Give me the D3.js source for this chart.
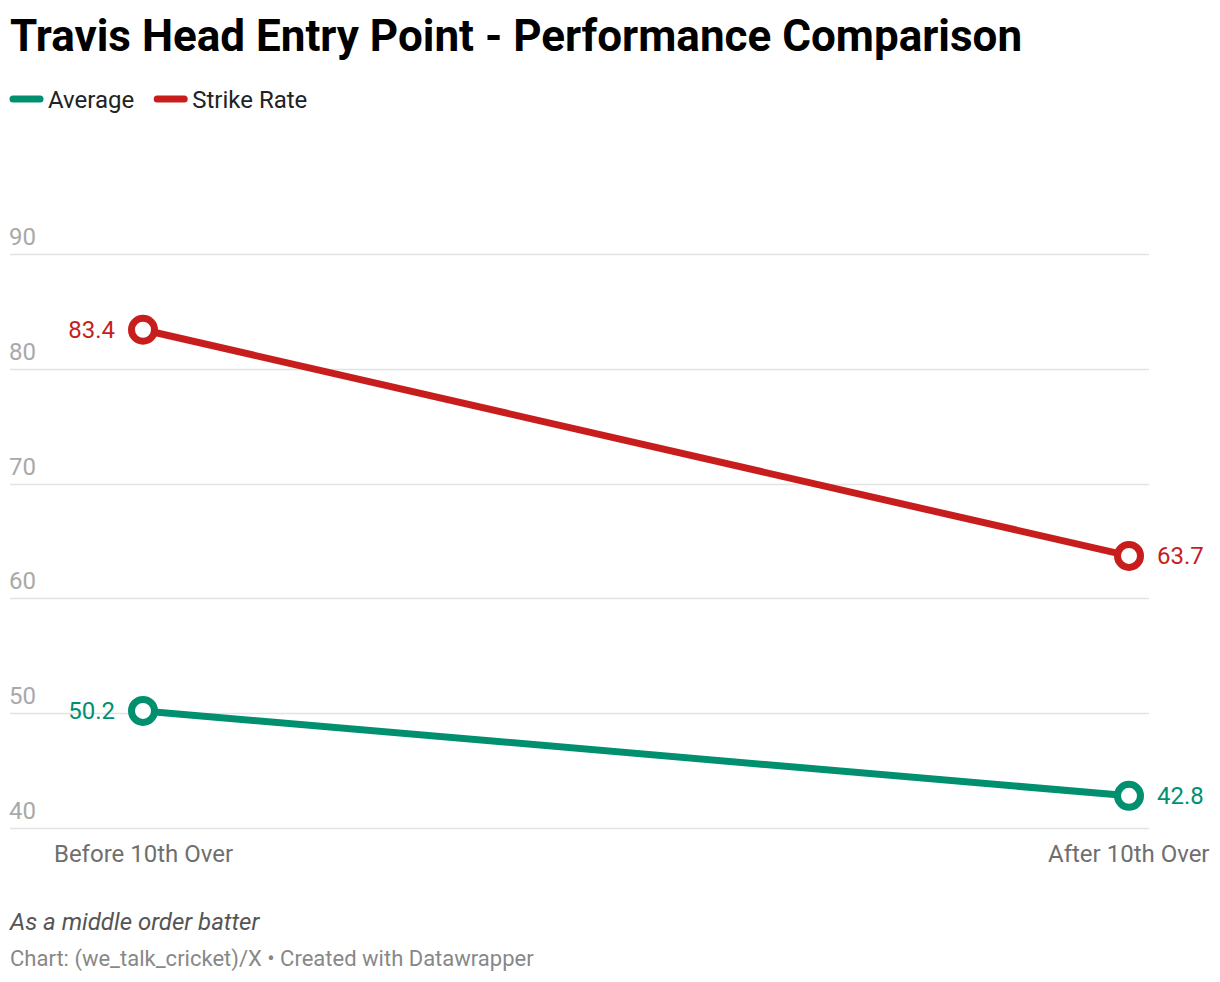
<!DOCTYPE html>
<html>
<head>
<meta charset="utf-8">
<script src="https://cdn.jsdelivr.net/npm/d3@7"></script>
<style>
  html, body { margin: 0; padding: 0; background: #fff; }
  body { width: 1220px; height: 982px; overflow: hidden; font-family: Roboto, "Noto Sans", sans-serif; }
</style>
</head>
<body>
<svg id="chart" width="1220" height="982"></svg>
<script>
const categories = ["Before 10th Over", "After 10th Over"];
const seriesNames = ["Average", "Strike Rate"];
const averageValues = [50.2, 42.8];
const strikeRateValues = [83.4, 63.7];
const yTicks = [40, 50, 60, 70, 80, 90];
const seriesColors = ["#009070", "#c71e1d"];

const svg = d3.select("#chart");

// Title
svg.append("text")
  .attr("x", 10).attr("y", 51)
  .attr("font-size", 44).attr("font-weight", 700).attr("fill", "#000")
  .text("Travis Head Entry Point - Performance Comparison");

// Legend
const legend = svg.append("g");
let lx = 10;
seriesNames.forEach((name, i) => {
  const g = legend.append("g");
  g.append("line").attr("x1", lx + 3).attr("x2", lx + 30).attr("y1", 99).attr("y2", 99)
    .attr("stroke", seriesColors[i]).attr("stroke-width", 7).attr("stroke-linecap", "round");
  const t = g.append("text").attr("x", lx + 38).attr("y", 108)
    .attr("font-size", 24).attr("fill", "#222").text(name);
  lx += 38 + t.node().getComputedTextLength() + 20;
});

// Scales
const y = d3.scaleLinear().domain([40, 90]).range([828, 254]);
const x = d3.scalePoint().domain(categories).range([143, 1129]);

// Grid
const grid = svg.append("g");
yTicks.forEach(t => {
  grid.append("line").attr("x1", 10).attr("x2", 1149)
    .attr("y1", Math.round(y(t)) + 0.5).attr("y2", Math.round(y(t)) + 0.5)
    .attr("stroke", "#e3e3e3").attr("stroke-width", 1.5);
  grid.append("text").attr("x", 9).attr("y", y(t) - 9)
    .attr("font-size", 24).attr("fill", "#a9a9a9").text(t);
});

// X-axis labels
const xAxis = d3.axisBottom(x).tickSize(0).tickPadding(0);
const xg = svg.append("g").attr("transform", "translate(0,862)").call(xAxis);
xg.select(".domain").remove();
xg.selectAll("text").attr("font-size", 24).attr("fill", "#6f6f6f")
  .attr("font-family", "Roboto, sans-serif").attr("dy", 0);
xg.selectAll(".tick").filter(d => d === categories[1]).select("text")
  .attr("text-anchor", "end").attr("x", 1209 - 1129);

// Lines
const data = [averageValues, strikeRateValues];
const line = d3.line().x((d, i) => x(categories[i])).y(d => y(d));
data.forEach((vals, si) => {
  svg.append("path").attr("d", line(vals)).attr("fill", "none")
    .attr("stroke", seriesColors[si]).attr("stroke-width", 7);
});
data.forEach((vals, si) => {
  vals.forEach((v, i) => {
    svg.append("circle").attr("cx", x(categories[i])).attr("cy", y(v)).attr("r", 11.5)
      .attr("fill", "#fff").attr("stroke", seriesColors[si]).attr("stroke-width", 7);
    const left = i === 0;
    svg.append("text")
      .attr("x", x(categories[i]) + (left ? -28 : 28))
      .attr("y", y(v) + 8)
      .attr("text-anchor", left ? "end" : "start")
      .attr("font-size", 24).attr("fill", seriesColors[si])
      .text(v.toFixed(1));
  });
});

// Notes
svg.append("text").attr("x", 10).attr("y", 930)
  .attr("font-size", 24).attr("font-style", "italic").attr("fill", "#555")
  .text("As a middle order batter");
svg.append("text").attr("x", 10).attr("y", 966)
  .attr("font-size", 22).attr("fill", "#888")
  .text("Chart: (we_talk_cricket)/X • Created with Datawrapper");
</script>
</body>
</html>
